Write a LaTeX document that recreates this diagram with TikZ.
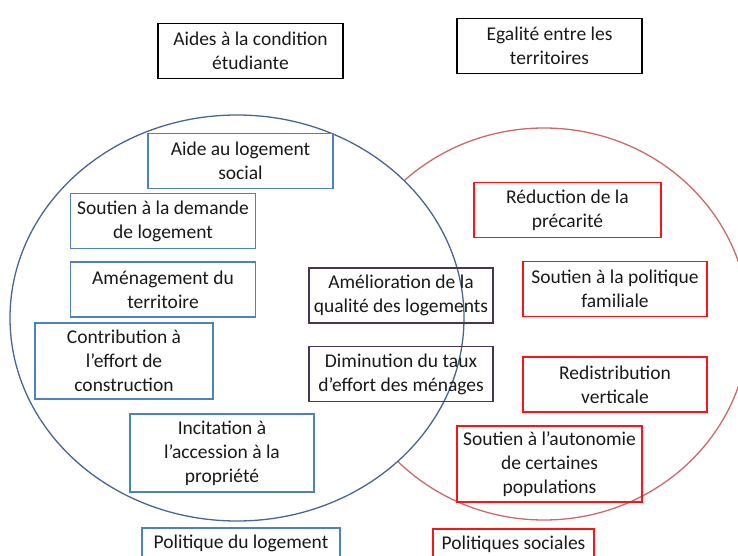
\documentclass[tikz,border=0pt]{standalone}
\usepackage{fontspec}
\setmainfont{Carlito}
\definecolor{boxblue}{RGB}{79,129,189}
\definecolor{ringblue}{RGB}{70,102,150}
\definecolor{ringred}{RGB}{205,105,105}
\definecolor{boxred}{RGB}{250,20,20}
\definecolor{boxpurple}{RGB}{70,52,90}

\begin{document}
\begin{tikzpicture}[x=1pt,y=-1pt,
	box/.style={draw, line width=1.5pt, align=center, inner sep=0pt,
	minimum width=185pt, minimum height=55pt, text=black!90,
	font=\fontsize{19.5}{24}\selectfont},
	logbox/.style={box, draw=boxblue},
	socbox/.style={box, draw=boxred},
	bothbox/.style={box, draw=boxpurple}]
\useasboundingbox (0,0) rectangle (738,556);
\clip (0,0) rectangle (738,556);
% the two sets
\draw[ringred, line width=1.3pt] (544,324) ellipse [x radius=205, y radius=196];
\draw[ringblue, line width=1.3pt, fill=white] (237,318) ellipse [x radius=227, y radius=203];
% outside both
\node[box, draw=black] (aides) at (250.5,51) {Aides à la condition\\étudiante};
\node[box, draw=black] (egalite) at (549.5,46) {Egalité entre les\\territoires};
% housing policy
\node[logbox] (logsocial) at (240.5,161) {Aide au logement\\social};
\node[logbox] (demande) at (163,221) {Soutien à la demande\\de logement};
\node[logbox] (amenag) at (163,289.5) {Aménagement du\\territoire};
\node[logbox, minimum width=178pt, minimum height=76pt] (contrib) at (124,361) {Contribution à\\l’effort de\\construction};
\node[logbox, minimum width=184pt, minimum height=78pt] (accession) at (222,453) {Incitation à\\l’accession à la\\propriété};
\node[logbox, anchor=north, minimum width=198pt, minimum height=32pt] (pollog) at (241,527) {Politique du logement};
% both
\node[bothbox, minimum width=184pt] (qualite) at (401,295.5) {Amélioration de la\\qualité des logements};
\node[bothbox, minimum width=184pt] (effort) at (401,374) {Diminution du taux\\d’effort des ménages};
% social policies
\node[socbox, minimum width=187pt] (precarite) at (567.5,210) {Réduction de la\\précarité};
\node[socbox, minimum width=184pt] (familiale) at (615,289) {Soutien à la politique\\familiale};
\node[socbox, minimum width=184pt] (redistrib) at (615,384.5) {Redistribution\\verticale};
\node[socbox, minimum height=76pt] (autonomie) at (549.5,464) {Soutien à l’autonomie\\de certaines\\populations};
\node[socbox, anchor=north, minimum width=161pt, minimum height=32pt] (polsoc) at (513.5,528) {Politiques sociales};
\end{tikzpicture}
\end{document}
